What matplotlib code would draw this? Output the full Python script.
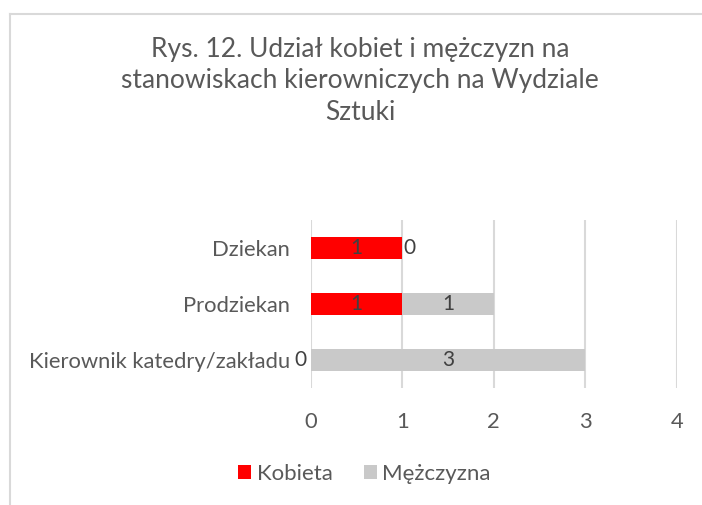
import matplotlib.pyplot as plt
from matplotlib.lines import Line2D
import numpy as np

plt.rcParams['font.family'] = ['Lato', 'DejaVu Sans']

categories = ['Dziekan', 'Prodziekan', 'Kierownik katedry/zakładu']
kobieta = [1, 1, 0]
mezczyzna = [0, 1, 3]
series_names = ['Kobieta', 'Mężczyzna']
title = 'Rys. 12. Udział kobiet i mężczyzn na\nstanowiskach kierowniczych na Wydziale\nSztuki'

red = '#ff0000'
grey = '#c9c9c9'
txt = '#595959'
lbl = '#404040'

fig = plt.figure(figsize=(7.02, 5.05), dpi=100)
ax = fig.add_axes([0.443, 0.2317, 0.521, 0.3327])

y = np.arange(len(categories))
b1 = ax.barh(y, kobieta, height=0.4, color=red, label=series_names[0], zorder=3)
b2 = ax.barh(y, mezczyzna, left=kobieta, height=0.4, color=grey, label=series_names[1], zorder=3)

# data labels; zero-width segments get pushed outside the bar
for i in range(len(categories)):
    k, m = kobieta[i], mezczyzna[i]
    if k == 0:
        ax.annotate(str(k), (0, y[i]), xytext=(-3, 0), textcoords='offset points',
                    ha='right', va='center', fontsize=15, color=lbl)
    else:
        ax.text(k / 2, y[i], str(k), ha='center', va='center', fontsize=15, color=lbl, zorder=4)
    if m == 0:
        ax.annotate(str(m), (k, y[i]), xytext=(1, 0), textcoords='offset points',
                    ha='left', va='center', fontsize=15, color=lbl)
    else:
        ax.text(k + m / 2, y[i], str(m), ha='center', va='center', fontsize=15, color=lbl, zorder=4)

ax.set_xlim(0, 4)
ax.set_ylim(len(categories) - 0.5, -0.5)
ax.set_xticks(range(0, 5))
ax.set_yticks(y)
ax.set_yticklabels(categories)
ax.grid(axis='x', color='#d9d9d9', linewidth=1.5, zorder=0)
ax.tick_params(axis='both', length=0, labelsize=15.8, colors=txt)
ax.tick_params(axis='x', pad=17)
ax.tick_params(axis='y', pad=15)
for s in ax.spines.values():
    s.set_visible(False)

# baseline alignment uses the last line here
fig.text(0.513, 1 - 120 / 505, title, ha='center', va='baseline', fontsize=19, color=txt, linespacing=1.33)

fig.legend(handles=[b1, b2], labels=series_names, loc='center', bbox_to_anchor=(0.519, 1 - 474 / 505),
           ncol=2, frameon=False, fontsize=16, labelcolor=txt, handlelength=0.6,
           handleheight=0.6, handletextpad=0.25, columnspacing=1.4)

# chart frame (only top/left visible in the crop)
fig.add_artist(Line2D([9.5 / 702, 9.5 / 702], [0, 1 - 13.5 / 505], transform=fig.transFigure,
                      color='#d9d9d9', linewidth=1.5))
fig.add_artist(Line2D([9.5 / 702, 1], [1 - 13.5 / 505, 1 - 13.5 / 505], transform=fig.transFigure,
                      color='#d9d9d9', linewidth=1.5))

fig.savefig('out.png', dpi=100)
